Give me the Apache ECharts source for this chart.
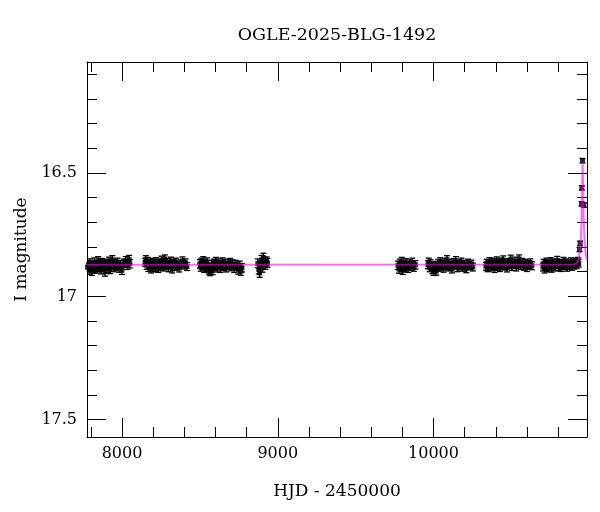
<!DOCTYPE html>
<html><head><meta charset="utf-8">
<script src="https://cdn.jsdelivr.net/npm/echarts@6/dist/echarts.min.js"></script>
<style>html,body{margin:0;padding:0;background:#fff}#c{width:600px;height:512px}</style>
</head><body><div id="c"></div>
<script>
// ---- data (HJD-2450000, I mag) ----
const season2017 = [[7778,16.882],[7784,16.871],[7789,16.893],[7795,16.865],[7801,16.879],[7806,16.898],[7812,16.874],[7818,16.886],[7823,16.861],[7829,16.889],[7835,16.872],[7841,16.881],[7847,16.856],[7853,16.884],[7859,16.869],[7865,16.892],[7871,16.863],[7878,16.879],[7884,16.87],[7890,16.901],[7897,16.866],[7903,16.875],[7910,16.887],[7917,16.858],[7924,16.891],[7931,16.873],[7938,16.852],[7946,16.883],[7954,16.868],[7962,16.877],[7971,16.862],[7980,16.885],[7990,16.871],[8000,16.894],[8012,16.866],[8024,16.856],[8035,16.874],[8046,16.851],[8050,16.868]];
const season2018 = [[8148,16.862],[8153,16.851],[8158,16.874],[8164,16.858],[8169,16.883],[8175,16.866],[8181,16.871],[8187,16.889],[8193,16.862],[8199,16.877],[8206,16.868],[8212,16.884],[8219,16.859],[8226,16.873],[8233,16.887],[8240,16.865],[8247,16.878],[8254,16.853],[8261,16.881],[8268,16.869],[8275,16.848],[8282,16.876],[8290,16.862],[8298,16.884],[8306,16.871],[8314,16.857],[8322,16.889],[8330,16.866],[8339,16.879],[8348,16.861],[8357,16.874],[8367,16.885],[8377,16.868],[8388,16.856],[8398,16.873],[8408,16.864],[8417,16.879]];
const season2019 = [[8500,16.868],[8505,16.881],[8510,16.862],[8516,16.874],[8522,16.856],[8528,16.886],[8534,16.869],[8540,16.879],[8546,16.861],[8552,16.883],[8558,16.893],[8564,16.899],[8570,16.884],[8576,16.871],[8582,16.895],[8589,16.866],[8596,16.877],[8603,16.859],[8610,16.884],[8617,16.872],[8624,16.865],[8631,16.886],[8638,16.874],[8646,16.861],[8654,16.879],[8662,16.868],[8670,16.884],[8678,16.866],[8686,16.875],[8694,16.863],[8702,16.879],[8711,16.869],[8720,16.886],[8729,16.871],[8738,16.878],[8747,16.893],[8756,16.874],[8764,16.898],[8770,16.884]];
const season2020 = [[8872,16.866],[8878,16.891],[8884,16.905],[8890,16.874],[8896,16.852],[8902,16.884],[8908,16.843],[8914,16.862],[8921,16.872],[8928,16.858],[8934,16.864]];
const season2022 = [[9772,16.874],[9778,16.889],[9784,16.866],[9790,16.881],[9796,16.859],[9802,16.894],[9808,16.871],[9815,16.883],[9822,16.864],[9830,16.878],[9838,16.886],[9846,16.869],[9855,16.877],[9864,16.862],[9874,16.881],[9884,16.872]];
const season2023 = [[9965,16.872],[9970,16.861],[9976,16.884],[9982,16.868],[9988,16.879],[9994,16.892],[10000,16.899],[10006,16.886],[10012,16.875],[10018,16.898],[10024,16.874],[10030,16.866],[10037,16.882],[10044,16.859],[10051,16.877],[10058,16.869],[10065,16.886],[10072,16.862],[10079,16.874],[10087,16.851],[10095,16.881],[10103,16.868],[10111,16.876],[10119,16.889],[10127,16.863],[10135,16.872],[10144,16.855],[10153,16.884],[10162,16.868],[10171,16.877],[10180,16.861],[10190,16.882],[10200,16.87],[10211,16.888],[10222,16.865],[10233,16.876],[10244,16.869],[10253,16.881]];
const season2024 = [[10337,16.878],[10342,16.866],[10348,16.884],[10354,16.871],[10360,16.859],[10366,16.881],[10372,16.868],[10378,16.876],[10385,16.862],[10392,16.887],[10399,16.871],[10406,16.856],[10413,16.879],[10420,16.866],[10427,16.883],[10434,16.861],[10441,16.874],[10448,16.852],[10456,16.877],[10464,16.868],[10472,16.885],[10480,16.863],[10488,16.872],[10496,16.849],[10505,16.879],[10514,16.866],[10523,16.857],[10532,16.881],[10541,16.869],[10550,16.848],[10560,16.874],[10570,16.862],[10580,16.878],[10590,16.866],[10601,16.883],[10612,16.871],[10622,16.864],[10632,16.876]];
const season2025 = [[10703,16.881],[10708,16.866],[10714,16.889],[10720,16.872],[10726,16.861],[10732,16.884],[10738,16.869],[10745,16.878],[10752,16.859],[10759,16.886],[10766,16.873],[10773,16.864],[10780,16.881],[10787,16.868],[10795,16.854],[10803,16.879],[10811,16.866],[10819,16.883],[10827,16.871],[10835,16.858],[10843,16.876],[10851,16.864],[10859,16.882],[10867,16.869],[10875,16.874],[10883,16.86],[10891,16.878],[10899,16.866],[10906,16.873],[10913,16.861],[10920,16.87],[10927,16.858],[10933,16.865]];
const eventPoints = [[10938,16.81],[10942,16.785],[10951,16.625],[10953,16.56],[10957,16.45],[10966,16.63]];
const seasonErrors = [0.017, 0.016, 0.017, 0.018, 0.017, 0.016, 0.016, 0.016, 0.009];
const modelCurve = [[7775,16.872],[10900,16.871],[10920,16.866],[10930,16.855],[10940,16.82],[10946,16.77],[10950,16.71],[10953,16.64],[10955,16.57],[10957,16.49],[10958,16.455],[10959,16.49],[10961,16.57],[10963,16.64],[10966,16.71],[10970,16.77],[10976,16.82],[10986,16.855]];
const xMajorTicks = [8000, 9000, 10000];
const xMinorTicks = [7800, 8200, 8400, 8600, 8800, 9200, 9400, 9600, 9800, 10200, 10400, 10600, 10800];
const yMajorTicks = [16.5, 17, 17.5];
const yMinorTicks = [16.1, 16.2, 16.3, 16.4, 16.6, 16.7, 16.8, 16.9, 17.1, 17.2, 17.3, 17.4];
const xRange = [7775, 10986];
const yRange = [16.05, 17.57];

const seasons = [season2017, season2018, season2019, season2020, season2022, season2023, season2024, season2025, eventPoints];
const points = [];
seasons.forEach((s, i) => s.forEach(p => points.push([p[0], p[1], seasonErrors[i]])));

const FONT = 'DejaVu Serif';
const plain = v => String(v);
function xAx(pos, ticks, len, main) {
  return {
    type: 'value', position: pos, min: xRange[0], max: xRange[1],
    axisLine: { show: main, onZero: false, lineStyle: { color: '#000', width: 1 } },
    axisTick: { show: true, inside: true, length: len, customValues: ticks, lineStyle: { color: '#000', width: 1 } },
    axisLabel: { show: main && pos === 'bottom', customValues: ticks, formatter: plain, margin: 9, color: '#000', fontFamily: FONT, fontSize: 16 },
    splitLine: { show: false },
    name: (main && pos === 'bottom') ? 'HJD - 2450000' : '',
    nameLocation: 'middle', nameGap: 46,
    nameTextStyle: { color: '#000', fontFamily: FONT, fontSize: 17 }
  };
}
function yAx(pos, ticks, len, main) {
  return {
    type: 'value', position: pos, inverse: true, min: yRange[0], max: yRange[1],
    axisLine: { show: main, onZero: false, lineStyle: { color: '#000', width: 1 } },
    axisTick: { show: true, inside: true, length: len, customValues: ticks, lineStyle: { color: '#000', width: 1 } },
    axisLabel: { show: main && pos === 'left', customValues: ticks, formatter: plain, margin: 10, color: '#000', fontFamily: FONT, fontSize: 16 },
    splitLine: { show: false },
    name: (main && pos === 'left') ? 'I magnitude' : '',
    nameLocation: 'middle', nameGap: 57, nameRotate: 90,
    nameTextStyle: { color: '#000', fontFamily: FONT, fontSize: 17 }
  };
}

const chart = echarts.init(document.getElementById('c'), null, { renderer: 'canvas' });
chart.setOption({
  animation: false,
  backgroundColor: '#fff',
  grid: { left: 87, right: 13, top: 62, bottom: 75 },
  xAxis: [xAx('bottom', xMajorTicks, 19, true), xAx('bottom', xMinorTicks, 10, false),
          xAx('top', xMajorTicks, 19, true), xAx('top', xMinorTicks, 10, false)],
  yAxis: [yAx('left', yMajorTicks, 19, true), yAx('left', yMinorTicks, 10, false),
          yAx('right', yMajorTicks, 19, true), yAx('right', yMinorTicks, 10, false)],
  graphic: [{ type: 'text', x: 337, y: 35, style: { text: 'OGLE-2025-BLG-1492', fill: '#000', font: '17.5px "DejaVu Serif"', align: 'center', verticalAlign: 'middle' } }],
  series: [
    {
      type: 'custom', xAxisIndex: 0, yAxisIndex: 0, data: points, encode: { x: 0, y: 1 }, clip: true, z: 2,
      renderItem: (params, api) => {
        const x = api.value(0), y = api.value(1), e = api.value(2);
        const t = api.coord([x, y - e]), b = api.coord([x, y + e]);
        const cw = 3;
        const st = { stroke: '#000', lineWidth: 1.3 };
        return { type: 'group', children: [
          { type: 'line', shape: { x1: t[0], y1: t[1], x2: b[0], y2: b[1] }, style: st },
          { type: 'line', shape: { x1: t[0] - cw, y1: t[1], x2: t[0] + cw, y2: t[1] }, style: st },
          { type: 'line', shape: { x1: b[0] - cw, y1: b[1], x2: b[0] + cw, y2: b[1] }, style: st }
        ] };
      }
    },
    {
      type: 'scatter', xAxisIndex: 0, yAxisIndex: 0, data: points, symbol: 'rect', symbolSize: 5, z: 3,
      itemStyle: { color: '#000' }
    },
    {
      type: 'line', xAxisIndex: 0, yAxisIndex: 0, data: modelCurve, showSymbol: false, z: 5,
      lineStyle: { color: '#ff00ff', width: 2, opacity: 0.6 }
    }
  ]
});
</script></body></html>
